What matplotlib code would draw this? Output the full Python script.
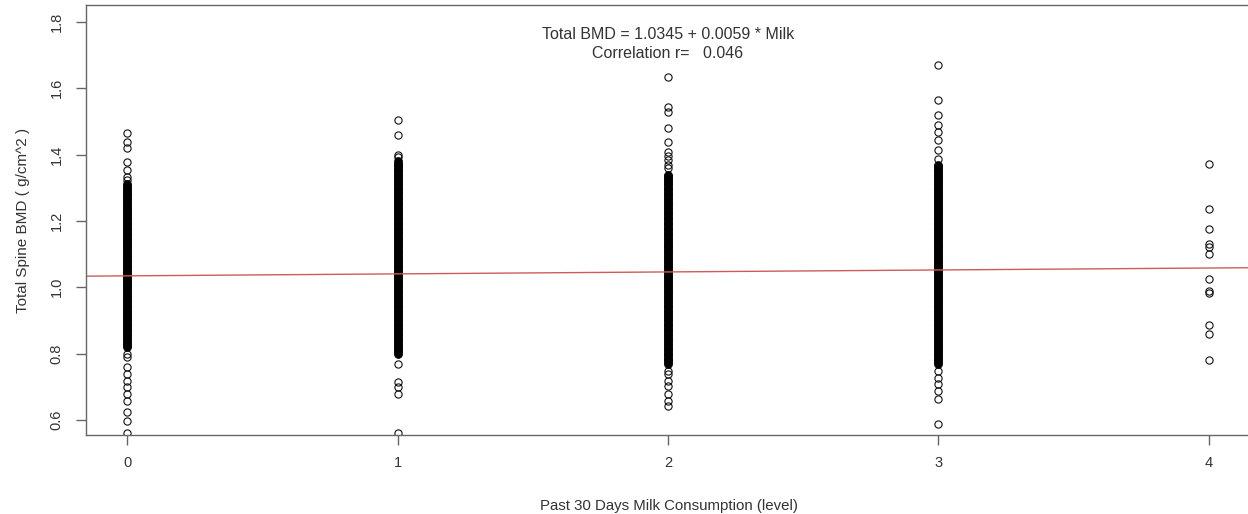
import matplotlib.pyplot as plt
import numpy as np

plt.rcParams["font.family"] = ["Liberation Sans", "DejaVu Sans"]

# milk consumption levels and the BMD values
milk_levels = [0, 1, 2, 3, 4]

# sparse points above and below the dense column, per level
level0_tails = [1.464, 1.438, 1.419, 1.378, 1.353, 1.333, 1.322,
                0.800, 0.790, 0.759, 0.739, 0.718, 0.698, 0.678, 0.658,
                0.623, 0.598, 0.560]
level1_tails = [1.504, 1.459, 1.398, 1.392,
                0.769, 0.713, 0.698, 0.678, 0.561]
level2_tails = [1.635, 1.544, 1.529, 1.479, 1.438, 1.408, 1.395, 1.383,
                1.370, 1.360,
                0.749, 0.739, 0.718, 0.703, 0.678, 0.658, 0.643]
level3_tails = [1.670, 1.566, 1.519, 1.489, 1.469, 1.444, 1.413, 1.388,
                0.749, 0.728, 0.708, 0.688, 0.663, 0.588]
level4_points = [1.373, 1.237, 1.177, 1.131, 1.121, 1.101, 1.024, 0.990,
                 0.982, 0.885, 0.859, 0.781]

# dense middle of each column (too packed to read one by one)
level0_core = [0.820, 0.830, 0.840, 0.850, 0.860, 0.870, 0.880, 0.890, 0.900,
               0.910, 0.920, 0.930, 0.940, 0.950, 0.960, 0.970, 0.980, 0.990,
               1.000, 1.010, 1.020, 1.030, 1.040, 1.050, 1.060, 1.070, 1.080,
               1.090, 1.100, 1.110, 1.120, 1.130, 1.140, 1.150, 1.160, 1.170,
               1.180, 1.190, 1.200, 1.210, 1.220, 1.230, 1.240, 1.250, 1.260,
               1.270, 1.280, 1.290, 1.300, 1.310,
               0.825, 0.835, 0.845, 0.855, 0.865, 0.875, 0.885, 0.895, 0.905,
               0.915, 0.925, 0.935, 0.945, 0.955, 0.965, 0.975, 0.985, 0.995,
               1.005, 1.015, 1.025, 1.035, 1.045, 1.055, 1.065, 1.075, 1.085,
               1.095, 1.105, 1.115, 1.125, 1.135, 1.145, 1.155, 1.165, 1.175,
               1.185, 1.195, 1.205, 1.215, 1.225, 1.235, 1.245, 1.255, 1.265,
               1.275, 1.285, 1.295, 1.305]
level1_core = [0.800, 0.810, 0.820, 0.830, 0.840, 0.850, 0.860, 0.870, 0.880,
               0.890, 0.900, 0.910, 0.920, 0.930, 0.940, 0.950, 0.960, 0.970,
               0.980, 0.990, 1.000, 1.010, 1.020, 1.030, 1.040, 1.050, 1.060,
               1.070, 1.080, 1.090, 1.100, 1.110, 1.120, 1.130, 1.140, 1.150,
               1.160, 1.170, 1.180, 1.190, 1.200, 1.210, 1.220, 1.230, 1.240,
               1.250, 1.260, 1.270, 1.280, 1.290, 1.300, 1.310, 1.320, 1.330,
               1.340, 1.350, 1.360, 1.370, 1.380,
               0.805, 0.815, 0.825, 0.835, 0.845, 0.855, 0.865, 0.875, 0.885,
               0.895, 0.905, 0.915, 0.925, 0.935, 0.945, 0.955, 0.965, 0.975,
               0.985, 0.995, 1.005, 1.015, 1.025, 1.035, 1.045, 1.055, 1.065,
               1.075, 1.085, 1.095, 1.105, 1.115, 1.125, 1.135, 1.145, 1.155,
               1.165, 1.175, 1.185, 1.195, 1.205, 1.215, 1.225, 1.235, 1.245,
               1.255, 1.265, 1.275, 1.285, 1.295, 1.305, 1.315, 1.325, 1.335,
               1.345, 1.355, 1.365, 1.375]
level2_core = [0.770, 0.780, 0.790, 0.800, 0.810, 0.820, 0.830, 0.840, 0.850,
               0.860, 0.870, 0.880, 0.890, 0.900, 0.910, 0.920, 0.930, 0.940,
               0.950, 0.960, 0.970, 0.980, 0.990, 1.000, 1.010, 1.020, 1.030,
               1.040, 1.050, 1.060, 1.070, 1.080, 1.090, 1.100, 1.110, 1.120,
               1.130, 1.140, 1.150, 1.160, 1.170, 1.180, 1.190, 1.200, 1.210,
               1.220, 1.230, 1.240, 1.250, 1.260, 1.270, 1.280, 1.290, 1.300,
               1.310, 1.320, 1.330, 1.340,
               0.775, 0.785, 0.795, 0.805, 0.815, 0.825, 0.835, 0.845, 0.855,
               0.865, 0.875, 0.885, 0.895, 0.905, 0.915, 0.925, 0.935, 0.945,
               0.955, 0.965, 0.975, 0.985, 0.995, 1.005, 1.015, 1.025, 1.035,
               1.045, 1.055, 1.065, 1.075, 1.085, 1.095, 1.105, 1.115, 1.125,
               1.135, 1.145, 1.155, 1.165, 1.175, 1.185, 1.195, 1.205, 1.215,
               1.225, 1.235, 1.245, 1.255, 1.265, 1.275, 1.285, 1.295, 1.305,
               1.315, 1.325, 1.335]
level3_core = [0.770, 0.780, 0.790, 0.800, 0.810, 0.820, 0.830, 0.840, 0.850,
               0.860, 0.870, 0.880, 0.890, 0.900, 0.910, 0.920, 0.930, 0.940,
               0.950, 0.960, 0.970, 0.980, 0.990, 1.000, 1.010, 1.020, 1.030,
               1.040, 1.050, 1.060, 1.070, 1.080, 1.090, 1.100, 1.110, 1.120,
               1.130, 1.140, 1.150, 1.160, 1.170, 1.180, 1.190, 1.200, 1.210,
               1.220, 1.230, 1.240, 1.250, 1.260, 1.270, 1.280, 1.290, 1.300,
               1.310, 1.320, 1.330, 1.340, 1.350, 1.360, 1.370,
               0.775, 0.785, 0.795, 0.805, 0.815, 0.825, 0.835, 0.845, 0.855,
               0.865, 0.875, 0.885, 0.895, 0.905, 0.915, 0.925, 0.935, 0.945,
               0.955, 0.965, 0.975, 0.985, 0.995, 1.005, 1.015, 1.025, 1.035,
               1.045, 1.055, 1.065, 1.075, 1.085, 1.095, 1.105, 1.115, 1.125,
               1.135, 1.145, 1.155, 1.165, 1.175, 1.185, 1.195, 1.205, 1.215,
               1.225, 1.235, 1.245, 1.255, 1.265, 1.275, 1.285, 1.295, 1.305,
               1.315, 1.325, 1.335, 1.345, 1.355, 1.365]

intercept = 1.0345
slope = 0.0059
correlation = 0.046

x_ticks = [0, 1, 2, 3, 4]
y_ticks = [0.6, 0.8, 1.0, 1.2, 1.4, 1.6, 1.8]


def main():
    tails = [level0_tails, level1_tails, level2_tails, level3_tails,
             level4_points]
    cores = [level0_core, level1_core, level2_core, level3_core, []]

    fig = plt.figure(figsize=(12.48, 5.14), dpi=100)
    ax = fig.add_axes([86 / 1248, 79 / 514, 1166 / 1248, 430 / 514])

    # open circles everywhere; the packed middle of a column overlaps
    # into a solid black bar, so it is drawn with filled circles
    for level, values, core in zip(milk_levels, tails, cores):
        ax.plot(np.full(len(values), level), values, linestyle="none",
                marker="o", markersize=5.2, markerfacecolor="none",
                markeredgecolor="#111111", markeredgewidth=0.8)
        if core:
            ax.plot(np.full(len(core), level), core, linestyle="none",
                    marker="o", markersize=5.6, markerfacecolor="black",
                    markeredgecolor="black", markeredgewidth=0.6)

    ax.axline((0, intercept), slope=slope, color="#d05a5a", linewidth=1.0)

    ax.set_xlim(-0.152, 4.16)
    ax.set_ylim(0.5547, 1.851)
    ax.set_xticks(x_ticks)
    ax.set_yticks(y_ticks)
    ax.set_xticklabels([str(t) for t in x_ticks])
    ax.set_yticklabels([f"{t:.1f}" for t in y_ticks], rotation=90,
                       va="center")

    for side in ["left", "bottom", "top", "right"]:
        ax.spines[side].set_color("#666666")
        ax.spines[side].set_linewidth(1.0)
    ax.tick_params(axis="both", direction="out", length=7, width=1.0,
                   color="#666666", labelsize=10.5, labelcolor="#333333")
    ax.tick_params(axis="x", pad=8)
    ax.tick_params(axis="y", pad=9)

    ax.set_xlabel("Past 30 Days Milk Consumption (level)", fontsize=10.8,
                  color="#333333", labelpad=21)
    ax.set_ylabel("Total Spine BMD ( g/cm^2 )", fontsize=11,
                  color="#333333", labelpad=14)

    ax.text(2.0, 1.761,
            f"Total BMD = {intercept:.4f} + {slope:.4f} * Milk",
            ha="center", va="center", fontsize=11.5, color="#333333")
    ax.text(2.0, 1.706, f"Correlation r=   {correlation:.3f}",
            ha="center", va="center", fontsize=11.5, color="#333333")

    fig.savefig("out.png", dpi=100)
    plt.close(fig)


if __name__ == "__main__":
    main()
